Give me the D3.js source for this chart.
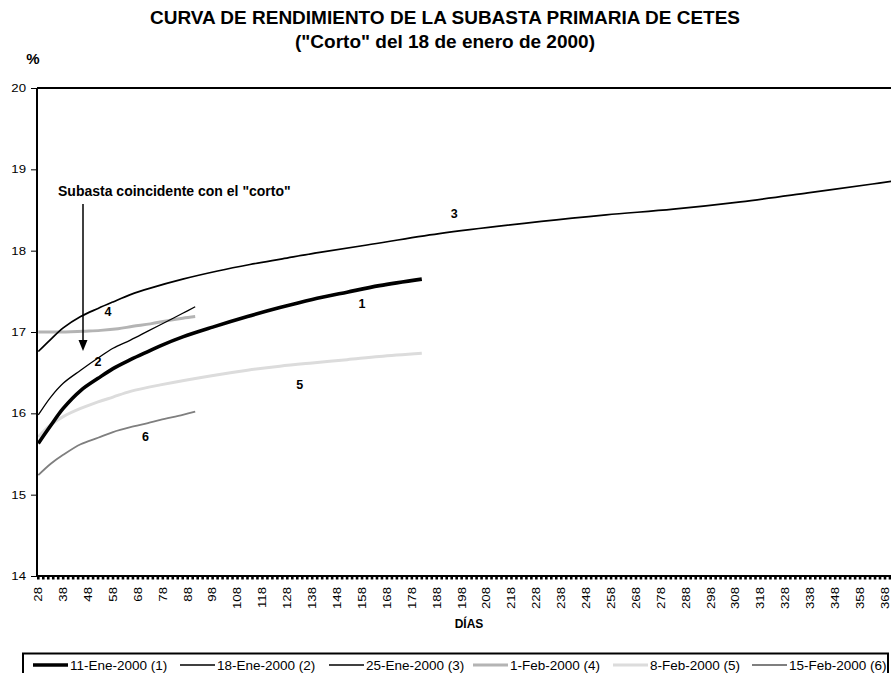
<!DOCTYPE html>
<html>
<head>
<meta charset="utf-8">
<script src="https://cdn.jsdelivr.net/npm/d3@7"></script>
<style>
  html, body { margin: 0; padding: 0; background: #fff; }
  svg { display: block; font-family: "Liberation Sans", Arial, sans-serif; }
</style>
</head>
<body>
<svg id="chart" width="891" height="673"></svg>
<script>
// ---- DATA ----
const title1 = "CURVA DE RENDIMIENTO DE LA SUBASTA PRIMARIA DE CETES";
const title2 = "(\"Corto\" del 18 de enero de 2000)";
const yTicks = [14, 15, 16, 17, 18, 19, 20];
const xTickLabels = d3.range(28, 369, 10); // 28, 38, ... 368
const seriesNames = ["11-Ene-2000 (1)", "18-Ene-2000 (2)", "25-Ene-2000 (3)", "1-Feb-2000 (4)", "8-Feb-2000 (5)", "15-Feb-2000 (6)"];
const seriesLabels = ["1", "2", "3", "4", "5", "6"];

// [días, rendimiento %]
const s1 = [[28,15.63],[33,15.85],[38,16.06],[45,16.28],[52,16.43],[58,16.55],[65,16.66],[72,16.76],[77,16.83],[86,16.94],[98,17.06],[112,17.19],[125,17.30],[138,17.40],[152,17.49],[165,17.57],[182,17.65]];
const s2 = [[28,15.98],[33,16.20],[38,16.37],[45,16.53],[52,16.68],[58,16.80],[65,16.90],[72,17.01],[79,17.12],[86,17.23],[91,17.31]];
const s3 = [[28,16.76],[33,16.91],[38,17.05],[45,17.19],[52,17.29],[58,17.37],[65,17.46],[73,17.54],[86,17.65],[100,17.75],[113,17.83],[126,17.90],[141,17.98],[160,18.07],[189,18.21],[230,18.36],[256,18.44],[283,18.51],[310,18.60],[337,18.71],[363,18.82],[372,18.86]];
const s4 = [[28,17.00],[39,17.00],[46,17.01],[53,17.02],[60,17.04],[66,17.07],[73,17.10],[80,17.14],[86,17.17],[91,17.19]];
const s5 = [[28,15.71],[33,15.86],[38,15.96],[45,16.06],[52,16.14],[58,16.20],[65,16.27],[77,16.35],[97,16.46],[112,16.53],[125,16.58],[138,16.62],[152,16.66],[165,16.70],[182,16.74]];
const s6 = [[28,15.24],[33,15.38],[38,15.49],[45,15.62],[52,15.70],[58,15.77],[65,15.83],[72,15.88],[77,15.92],[86,15.98],[91,16.02]];
const seriesData = [s1, s2, s3, s4, s5, s6];

// label anchor positions in data units [día, %]
const labelPos = [[158,17.35],[52,16.63],[195,18.46],[56,17.25],[133,16.35],[71,15.71]];
const note = "Subasta coincidente con el \"corto\"";

// ---- STYLE ----
const colors = ["#000000", "#000000", "#000000", "#b4b4b4", "#dcdcdc", "#7f7f7f"];
const widths = [3.6, 1.3, 1.7, 3, 3, 1.8];

// ---- LAYOUT ----
const svg = d3.select("#chart");
const plotLeft = 37, plotTop = 88, plotBottom = 576, plotRight = 891;
const x = d3.scaleLinear().domain([28, 368]).range([38.3, 885]);
const y = d3.scaleLinear().domain([14, 20]).range([plotBottom, plotTop]);

// titles
svg.append("text").attr("x", 445).attr("y", 23.5).attr("text-anchor", "middle")
  .attr("font-size", 19).attr("font-weight", "bold").text(title1);
svg.append("text").attr("x", 445).attr("y", 48).attr("text-anchor", "middle")
  .attr("font-size", 19).attr("font-weight", "bold").text(title2);
svg.append("text").attr("x", 33).attr("y", 64).attr("text-anchor", "middle")
  .attr("font-size", 15).attr("font-weight", "bold").text("%");

// plot clip
svg.append("defs").append("clipPath").attr("id", "plotclip")
  .append("rect").attr("x", plotLeft).attr("y", plotTop - 5).attr("width", plotRight - plotLeft).attr("height", plotBottom - plotTop + 5);

// series
const line = d3.line().x(d => x(d[0])).y(d => y(d[1])).curve(d3.curveCatmullRom.alpha(0.5));
const order = [4, 3, 5, 1, 2, 0];
const g = svg.append("g").attr("clip-path", "url(#plotclip)");
order.forEach(i => {
  g.append("path").datum(seriesData[i]).attr("d", line)
    .attr("fill", "none").attr("stroke", colors[i]).attr("stroke-width", widths[i])
    .attr("stroke-linejoin", "round");
});

// top border
svg.append("line").attr("x1", plotLeft).attr("x2", plotRight).attr("y1", plotTop).attr("y2", plotTop)
  .attr("stroke", "#000").attr("stroke-width", 2);

// y axis
const yAxis = svg.append("g").attr("transform", `translate(${plotLeft},0)`)
  .call(d3.axisLeft(y).tickValues(yTicks).tickSize(6).tickFormat(""));
yAxis.select(".domain").attr("stroke", "#000").attr("stroke-width", 2).attr("d", `M0,${plotTop}V${plotBottom}`);
yAxis.selectAll(".tick line").attr("stroke", "#000").attr("stroke-width", 1);
svg.selectAll("text.yl").data(yTicks).enter().append("text").attr("class", "yl")
  .attr("transform", d => `translate(26,${y(d)}) scale(1.2,1)`)
  .attr("text-anchor", "end").attr("dy", "0.35em").attr("font-size", 11).text(d => d);

// x axis: minor ticks every 2 days, labels every 10 days
const xAxis = svg.append("g").attr("transform", `translate(0,${plotBottom})`);
xAxis.append("line").attr("x1", plotLeft).attr("x2", plotRight).attr("y1", 0).attr("y2", 0)
  .attr("stroke", "#000").attr("stroke-width", 2);
xAxis.selectAll("line.mt").data(d3.range(28, 373, 2)).enter().append("line").attr("class", "mt")
  .attr("x1", d => x(d)).attr("x2", d => x(d)).attr("y1", 0).attr("y2", 3.5)
  .attr("stroke", "#000").attr("stroke-width", 2.6);
xAxis.selectAll("text.xl").data(xTickLabels).enter().append("text").attr("class", "xl")
  .attr("transform", d => `translate(${x(d)},11) rotate(-90) scale(1.2,1)`)
  .attr("text-anchor", "end").attr("dy", "0.35em")
  .attr("font-size", 11).text(d => d);
svg.append("text").attr("x", 469).attr("y", 628).attr("text-anchor", "middle")
  .attr("font-size", 12).attr("font-weight", "bold").text("DÍAS");

// series labels
svg.selectAll("text.sl").data(labelPos).enter().append("text").attr("class", "sl")
  .attr("x", d => x(d[0])).attr("y", d => y(d[1])).attr("text-anchor", "middle").attr("dy", "0.35em")
  .attr("font-size", 12.5).attr("font-weight", "bold").text((d, i) => seriesLabels[i]);

// annotation
svg.append("text").attr("x", 58).attr("y", 196).attr("font-size", 14).attr("font-weight", "bold").text(note);
svg.append("line").attr("x1", 83).attr("x2", 83).attr("y1", 204).attr("y2", 341)
  .attr("stroke", "#000").attr("stroke-width", 1.5);
svg.append("path").attr("d", "M78.5,340 L87.5,340 L83,351 Z").attr("fill", "#000");

// legend
const lg = svg.append("g");
lg.append("path").attr("d", "M23,680 V653.5 H888 V680").attr("fill", "none").attr("stroke", "#000").attr("stroke-width", 2);
const legX = [33, 180, 329, 473, 613, 752];
seriesNames.forEach((n, i) => {
  lg.append("line").attr("x1", legX[i]).attr("x2", legX[i] + 35).attr("y1", 665).attr("y2", 665)
    .attr("stroke", colors[i]).attr("stroke-width", Math.max(widths[i], 1.5));
  lg.append("text").attr("x", legX[i] + 37).attr("y", 670).attr("font-size", 13.5).text(n);
});
</script>
</body>
</html>
